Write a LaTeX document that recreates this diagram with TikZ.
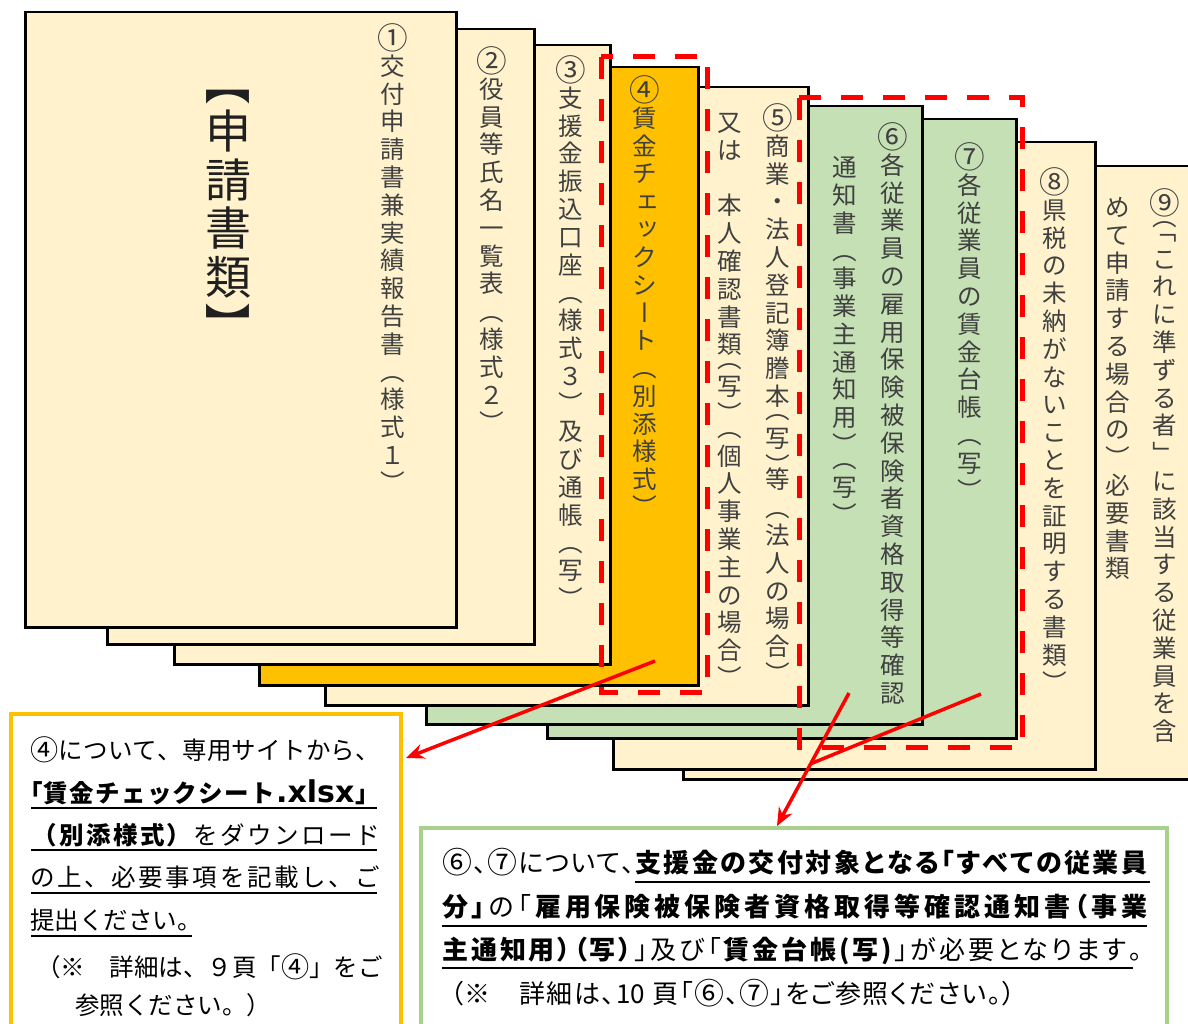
\documentclass[tikz,border=0pt]{standalone}
\usepackage{fontspec}
\usepackage{graphicx}
\usetikzlibrary{arrows.meta}
\setmainfont{Noto Sans CJK JP}
\newfontfamily\jp{Noto Sans CJK JP}
\newfontfamily\jpp[RawFeature=+palt]{Noto Sans CJK JP}
\newfontfamily\latb{DejaVu Sans}

\newdimen\vtpitch
\vtpitch=27.8pt
\newcommand\cn[1]{\raisebox{-0.06em}{\scalebox{1.15}{#1}}}

\ExplSyntaxOn
\box_new:N \l__vt_box
\bool_new:N \l__jl_first_bool
\cs_new_protected:Npn \__vt_cell:nnn #1#2#3
  {
    \hbox_set_to_wd:Nnn \l__vt_box {1em} { \hss #3 \hss }
    \box_set_ht:Nn \l__vt_box {#1}
    \box_set_dp:Nn \l__vt_box {#2}
    \box_use_drop:N \l__vt_box
  }
\cs_new_protected:Npn \__vt_norm:n #1
  { \__vt_cell:nnn { 0.38em + 0.5\vtpitch } { 0.5\vtpitch - 0.38em } {#1} }
\cs_new_protected:Npn \__vt_rotbox:n #1
  { \rotatebox[origin=c]{-90}{ \makebox[1em]{ \rule[-0.12em]{0pt}{1em} #1 } } }
\cs_new_protected:Npn \__vt_rot:n #1
  { \__vt_norm:n { \__vt_rotbox:n {#1} } }
\cs_new_protected:Npn \__vt_small:n #1
  { \__vt_norm:n { \kern0.22em \raisebox{0.1em}{#1} } }
\cs_new_protected:Npn \__vt_circ:n #1
  { \__vt_norm:n { \raisebox{-0.08em}{ \scalebox{1.25}{#1} } } }
\NewDocumentCommand \vopen { m }
  { \__vt_cell:nnn { 0.38em } { 0.5\vtpitch - 0.38em } { \__vt_rotbox:n {#1} } }
\NewDocumentCommand \vclose { m }
  { \__vt_cell:nnn { 0.38em + 0.5\vtpitch } { -0.38em } { \__vt_rotbox:n {#1} } }
\cs_new_protected:Npn \__vt_item:n #1
  {
    \tl_if_single_token:nTF {#1}
      {
        \str_case:nnF {#1}
          {
            {（} { \__vt_rot:n {#1} }
            {）} { \__vt_rot:n {#1} }
            {「} { \__vt_rot:n {#1} }
            {」} { \__vt_rot:n {#1} }
            {ー} { \__vt_rot:n {#1} }
            {ェ} { \__vt_small:n {#1} }
            {ッ} { \__vt_small:n {#1} }
            {①} { \__vt_circ:n {#1} }
            {②} { \__vt_circ:n {#1} }
            {③} { \__vt_circ:n {#1} }
            {④} { \__vt_circ:n {#1} }
            {⑤} { \__vt_circ:n {#1} }
            {⑥} { \__vt_circ:n {#1} }
            {⑦} { \__vt_circ:n {#1} }
            {⑧} { \__vt_circ:n {#1} }
            {⑨} { \__vt_circ:n {#1} }
          }
          { \__vt_norm:n {#1} }
      }
      {#1}
  }
\NewDocumentCommand \vcol { m }
  { \vbox { \offinterlineskip \tl_map_function:nN {#1} \__vt_item:n } }
\cs_new_protected:Npn \__jl_item:n #1
  {
    \bool_lazy_and:nnTF { \tl_if_single_token_p:n {#1} } { \token_if_cs_p:N #1 }
      { #1 }
      {
        \bool_if:NF \l__jl_first_bool { \hfil }
        \bool_set_false:N \l__jl_first_bool
        { #1 }
      }
  }
\NewDocumentCommand \jline { m m }
  {
    \hbox_to_wd:nn {#1}
      {
        \bool_set_true:N \l__jl_first_bool
        \tl_map_function:nN {#2} \__jl_item:n
      }
  }
\ExplSyntaxOff

\definecolor{cream}{HTML}{FFF2CC}
\definecolor{orng}{HTML}{FFC000}
\definecolor{lgreen}{HTML}{C5E0B4}
\definecolor{gborder}{HTML}{A9D18E}
\definecolor{vgray}{HTML}{404040}
\definecolor{bigc}{HTML}{202020}

\tikzset{
  sheet/.style={draw=black, line width=2.5pt, inner sep=0pt, anchor=north west},
  vcolumn/.style={inner sep=0pt, anchor=north, text=vgray, font=\jp\fontsize{24.5}{28}\selectfont},
  reddash/.style={draw=red, line width=5pt, dash pattern=on 22pt off 20pt},
  redarrow/.style={draw=red, line width=3.5pt, -{Stealth[length=18pt,width=15pt]}},
  redline/.style={draw=red, line width=3.5pt},
  ytext/.style={inner sep=0pt, anchor=base west, font=\jp\fontsize{24.5}{30}\selectfont},
  gtext/.style={inner sep=0pt, anchor=base west, font=\jpp\fontsize{26}{30}\selectfont},
  uline/.style={draw=black, line width=2pt},
  infobox/.style={fill=white, line width=3.5pt, inner sep=0pt, anchor=north west},
}

\begin{document}
\begin{tikzpicture}[x=1pt,y=-1pt]
\useasboundingbox (0,0) rectangle (1188,1024);
\clip (0,0) rectangle (1188,1024);

% stacked sheets, back to front
\node[sheet, fill=cream, minimum width=518pt, minimum height=613pt] (sh9) at (682,165) {};
\node[sheet, fill=cream, minimum width=482pt, minimum height=627pt] (sh8) at (612,141) {};
\node[sheet, fill=lgreen, minimum width=469pt, minimum height=619pt] (sh7) at (546,118) {};
\node[sheet, fill=lgreen, minimum width=496pt, minimum height=618pt] (sh6) at (425,105) {};
\node[sheet, fill=cream, minimum width=483pt, minimum height=618pt] (sh5) at (324,86) {};
\node[sheet, fill=orng, minimum width=439pt, minimum height=618pt] (sh4) at (258,66) {};
\node[sheet, fill=cream, minimum width=436pt, minimum height=619pt] (sh3) at (173,44) {};
\node[sheet, fill=cream, minimum width=427pt, minimum height=615pt] (sh2) at (106,28) {};
\node[sheet, fill=cream, minimum width=431pt, minimum height=615pt] (sh1) at (24,11) {};

% vertical texts
\node[vcolumn, text=bigc, font=\jp\fontsize{46}{50}\selectfont] (big) at (228,82.5)
  {\vtpitch=48.5pt\vcol{{\vopen{【}}申請書類{\vclose{】}}}};
\node[vcolumn] (c1) at (393,24) {\vcol{①交付申請書兼実績報告書（様式１）}};
\node[vcolumn] (c2) at (492,47) {\vcol{②役員等氏名一覧表（様式２）}};
\node[vcolumn] (c3) at (571,56) {\vcol{③支援金振込口座（様式３）及び通帳（写）}};
\node[vcolumn] (c4) at (645,76) {\vcol{④賃金チェックシート（別添様式）}};
\node[vcolumn] (c5l) at (730,108) {\vcol{又は　本人確認書類{\vopen{（}}写{\vclose{）}}（個人事業主の場合）}};
\node[vcolumn] (c5r) at (778,104) {\vcol{⑤商業・法人登記簿謄本{\vopen{（}}写{\vclose{）}}等（法人の場合）}};
\node[vcolumn] (c6r) at (893,123) {\vcol{⑥各従業員の雇用保険被保険者資格取得等確認}};
\node[vcolumn] (c6l) at (845,153) {\vcol{通知書（事業主通知用{\vclose{）}}（写）}};
\node[vcolumn] (c7) at (970,143) {\vcol{⑦各従業員の賃金台帳（写）}};
\node[vcolumn] (c8) at (1055,168) {\vcol{⑧県税の未納がないことを証明する書類）}};
\node[vcolumn] (c9r) at (1165,189) {\vcol{⑨{\vopen{（}}{\vopen{「}}これに準ずる者」に該当する従業員を含}};
\node[vcolumn] (c9l) at (1118,193) {\vcol{めて申請する場合の）必要書類}};

% red dashed frames
\draw[reddash] (601,57) rectangle (707,692);
\draw[reddash] (799,98) rectangle (1022,747);

% info boxes
\node[infobox, draw=orng, minimum width=390pt, minimum height=340pt] (ybox) at (9,712) {};
\node[infobox, draw=gborder, minimum width=746pt, minimum height=230pt] (gbox) at (419,826) {};

% yellow box text
\node[ytext] (y1) at (30,759) {\jline{350pt}{{\cn{④}}について、専用サイトから、}};
\node[ytext] (y2) at (18,802) {\jline{362pt}{\bfseries「賃金チェックシート{\fontsize{30}{30}\selectfont\latb .xlsx}」}};
\node[ytext] (y3) at (32,844) {\jline{348pt}{\bfseries（別添様式）\mdseries をダウンロード}};
\node[ytext] (y4) at (30,886) {\jline{350pt}{の上、必要事項を記載し、ご}};
\node[ytext] (y5) at (30,929) {提出ください。};
\node[ytext] (y6) at (36,976) {\jline{344pt}{（※　詳細は、９頁「{\cn{④}}」をご}};
\node[ytext] (y7) at (75,1014) {参照ください。）};
\draw[uline] (31,808) -- (377,808);
\draw[uline] (31,850) -- (377,850);
\draw[uline] (31,893) -- (377,893);
\draw[uline] (31,936) -- (192,936);

% green box text
\node[gtext] (g1a) at (442,872) {\jline{193pt}{{\cn{⑥}}、{\cn{⑦}}について、}};
\node[gtext] (g1b) at (635,872) {\jline{512pt}{\bfseries 支援金の交付対象となる「すべての従業員}};
\node[gtext] (g2) at (442,916) {\jline{705pt}{\bfseries 分」\mdseries の「\bfseries 雇用保険被保険者資格取得等確認通知書（事業}};
\node[gtext] (g3) at (442,959) {\jline{700pt}{\bfseries 主通知用）（写）\mdseries」及び「\bfseries 賃金台帳(写)\mdseries」が必要となります。}};
\node[gtext] (g4) at (450,1003) {\jline{565pt}{（※　詳細は、{10 }頁「{\cn{⑥}}、{\cn{⑦}}」をご参照ください。）}};
\draw[uline] (635,882) -- (1150,882);
\draw[uline] (442,926) -- (1147,926);
\draw[uline] (442,968) -- (1133,968);

% arrows
\coordinate (s4) at (655,661);
\coordinate (t4) at (406,758);
\coordinate (s6) at (849,693);
\coordinate (t6) at (777,826);
\coordinate (s7) at (981,694);
\coordinate (d7) at (805,766);
\coordinate (m67) at (intersection of s6--t6 and s7--d7);
\draw[redarrow] (s4) -- (t4);
\draw[redarrow] (s6) -- (t6);
\draw[redline] (s7) -- (m67);
\end{tikzpicture}
\end{document}
